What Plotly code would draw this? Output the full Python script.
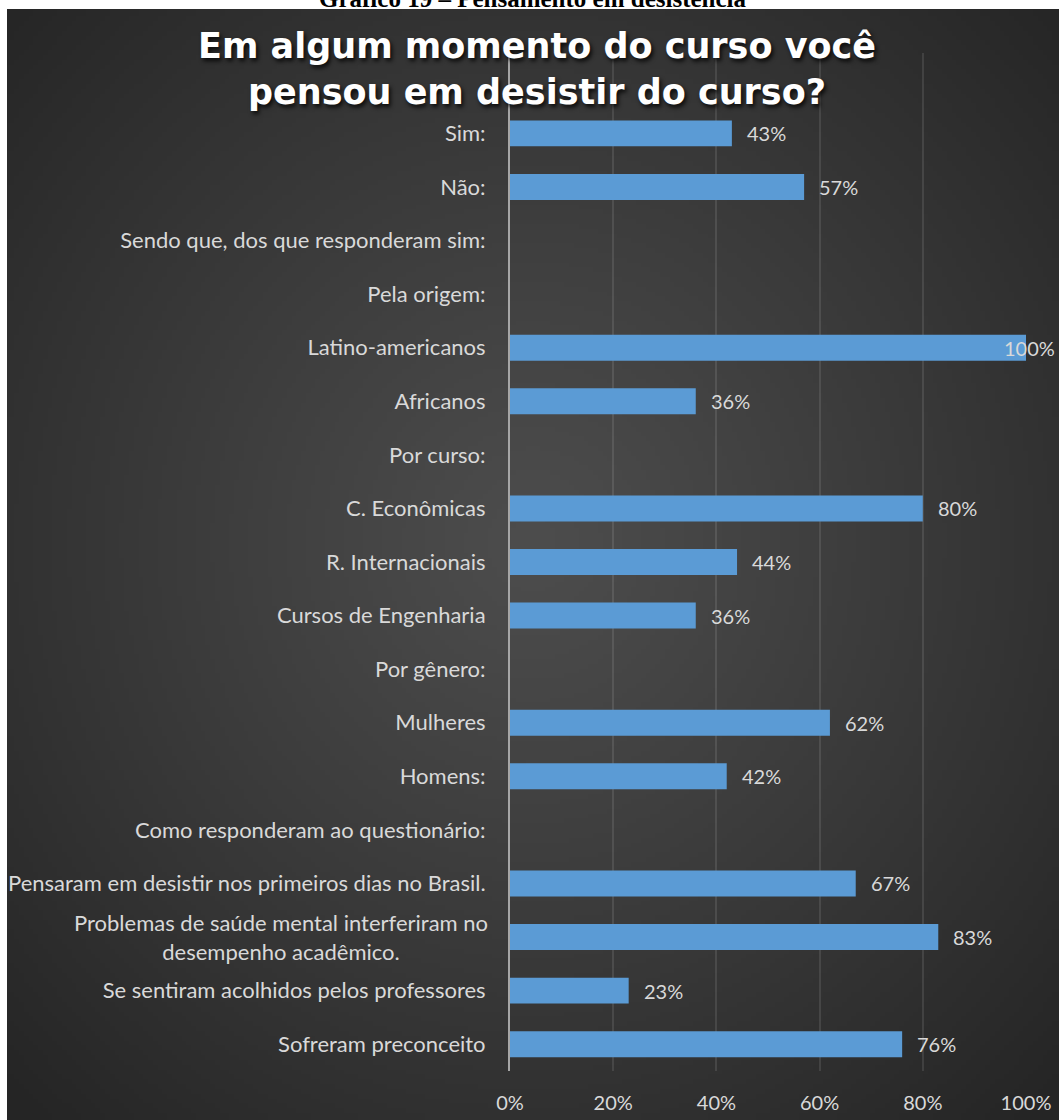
import base64, struct, zlib
import numpy as np
import plotly.graph_objects as go

# ---------------- data ----------------
categories = [
    " ",
    "Sim:",
    "Não:",
    "Sendo que, dos que responderam sim:",
    "Pela origem:",
    "Latino-americanos",
    "Africanos",
    "Por curso:",
    "C. Econômicas",
    "R. Internacionais",
    "Cursos de Engenharia",
    "Por gênero:",
    "Mulheres",
    "Homens:",
    "Como responderam ao questionário:",
    "Pensaram em desistir nos primeiros dias no Brasil.",
    "Problemas de saúde mental interferiram no<br>desempenho acadêmico.",
    "Se sentiram acolhidos pelos professores",
    "Sofreram preconceito",
]
values = [None, 43, 57, None, None, 100, 36, None, 80, 44, 36, None, 62, 42, None, 67, 83, 23, 76]
tick_vals = [0, 20, 40, 60, 80, 100]
tick_text = ["0%", "20%", "40%", "60%", "80%", "100%"]
title_text = "Em algum momento do curso você<br>pensou em desistir do curso?"
caption_text = "Gráfico 19 – Pensamento em desistência"

# ---------------- layout geometry ----------------
W, H = 1059, 1120
ML, MR, MT, MB = 510, 33, 53, 49
PW, PH = W - ML - MR, H - MT - MB


def px_to_paper_x(px):
    return (px - ML) / PW


def px_to_paper_y(py):
    return (H - MB - py) / PH


# radial gradient background as PNG data uri
def gradient_png(w=220, h=230):
    yy, xx = np.mgrid[0:h, 0:w]
    cx, cy = 0.5 * (w - 1), 0.48 * (h - 1)
    r = np.sqrt(((xx - cx) / (0.5 * w * 1.414)) ** 2 + ((yy - cy) / (0.5 * h * 1.414)) ** 2)
    r = np.clip(r, 0, 1)
    v = 77 - 40 * r ** 1.1
    arr = np.clip(v, 0, 255).astype(np.uint8)
    rgb = np.stack([arr, arr, arr], axis=-1)
    raw = b"".join(b"\x00" + rgb[i].tobytes() for i in range(h))

    def chunk(tag, data):
        c = struct.pack(">I", len(data)) + tag + data
        return c + struct.pack(">I", zlib.crc32(tag + data) & 0xFFFFFFFF)

    png = b"\x89PNG\r\n\x1a\n"
    png += chunk(b"IHDR", struct.pack(">IIBBBBB", w, h, 8, 2, 0, 0, 0))
    png += chunk(b"IDAT", zlib.compress(raw, 9))
    png += chunk(b"IEND", b"")
    return "data:image/png;base64," + base64.b64encode(png).decode()


label_color = "#d9d9d9"
font_family = "Lato, 'Open Sans', sans-serif"
YLAB_SIZE = 22

fig = go.Figure()
fig.add_trace(go.Bar(
    x=values,
    y=categories,
    orientation="h",
    marker=dict(color="#5b9bd5", line=dict(width=0)),
    hoverinfo="x+y",
))

annotations = []
for c, v in zip(categories, values):
    if v is None:
        continue
    if v >= 100:
        annotations.append(dict(x=v, y=c, xref="x", yref="y", text=f"{v}%", showarrow=False,
                                xanchor="right", xshift=W - 2 - (ML + PW),
                                font=dict(family=font_family, size=20, color=label_color)))
    else:
        annotations.append(dict(x=v, y=c, xref="x", yref="y", text=f"{v}%", showarrow=False,
                                xanchor="left", xshift=13,
                                font=dict(family=font_family, size=20, color=label_color)))

# multi-line category labels are drawn centred (as in the reference) via annotations
tick_labels = []
for c in categories:
    if "<br>" in c:
        tick_labels.append("")
        annotations.append(dict(x=0, xref="paper", y=c, yref="y", text=c, showarrow=False,
                                xanchor="right", xshift=-20, yanchor="middle", align="center",
                                font=dict(family=font_family, size=YLAB_SIZE, color=label_color)))
    else:
        tick_labels.append(c)

annotations.append(dict(
    x=(533 - ML) / PW, xref="paper", y=1, yref="paper",
    yanchor="bottom", yshift=MT - 14, xanchor="center", showarrow=False,
    text="<b>" + caption_text + "</b>",
    font=dict(family="Liberation Serif, 'Times New Roman', serif", size=25, color="black"),
))

fig.update_layout(
    width=W, height=H,
    margin=dict(l=ML, r=MR, t=MT, b=MB, pad=0, autoexpand=False),
    paper_bgcolor="white",
    plot_bgcolor="rgba(0,0,0,0)",
    bargap=0.515,
    showlegend=False,
    title=dict(
        text=title_text,
        x=537 / W, xanchor="center", xref="container",
        y=1 - 58 / H, yanchor="middle", yref="container",
        font=dict(family="'DejaVu Sans', sans-serif", size=35, color="white", weight=700,
                  shadow="2px 3px 4px rgba(0,0,0,0.8)"),
    ),
    xaxis=dict(
        range=[0, 100], tickvals=tick_vals, ticktext=tick_text,
        showgrid=True, gridcolor="rgba(255,255,255,0.10)", gridwidth=2,
        zeroline=False, showline=False, automargin=False,
        tickfont=dict(family=font_family, size=20, color=label_color),
        ticklabelstandoff=18, fixedrange=True,
    ),
    yaxis=dict(
        type="category", categoryorder="array", categoryarray=categories,
        tickmode="array", tickvals=categories, ticktext=tick_labels,
        autorange="reversed", showgrid=False, zeroline=False, automargin=False,
        showline=True, linecolor="#a6a6a6", linewidth=2,
        tickfont=dict(family=font_family, size=YLAB_SIZE, color=label_color),
        ticklabelstandoff=18, fixedrange=True,
    ),
    annotations=annotations,
    images=[dict(
        source=gradient_png(),
        xref="paper", yref="paper",
        x=px_to_paper_x(7), y=px_to_paper_y(9),
        sizex=(W - 7) / PW, sizey=(H - 9) / PH,
        xanchor="left", yanchor="top", sizing="stretch", layer="below",
    )],
)

fig.write_html("out.html")
